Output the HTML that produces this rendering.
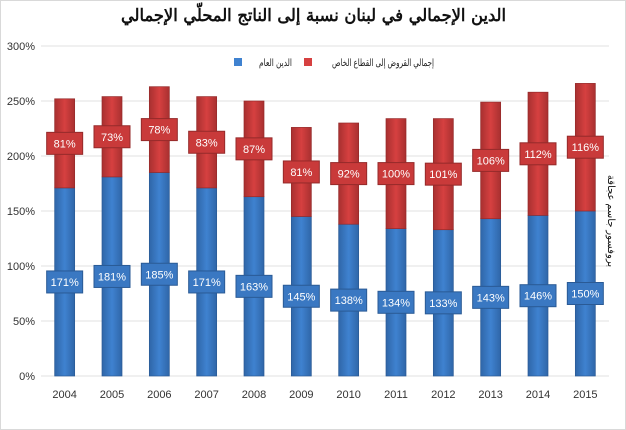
<!DOCTYPE html>
<html><head><meta charset="utf-8"><style>
body{margin:0;background:#fff;}
#c{position:relative;width:626px;height:430px;font-family:"Liberation Sans","Noto Sans CJK SC",sans-serif;border:1px solid #d9d9d9;box-sizing:border-box;overflow:hidden}
</style></head><body>
<div id="c">
<svg id="s" width="626" height="430"></svg>
</div>
<script>
const years=["2004","2005","2006","2007","2008","2009","2010","2011","2012","2013","2014","2015"];
const publicDebt=[171,181,185,171,163,145,138,134,133,143,146,150];
const privateLoans=[81,73,78,83,87,81,92,100,101,106,112,116];
const yTicks=[0,50,100,150,200,250,300];
const NS="http://www.w3.org/2000/svg";
const svg=document.getElementById('s');
const x0=40,x1=608,yBase=375,yTop=45,yMax=300;
const y=v=>yBase-(v/yMax)*(yBase-yTop);
const step=(x1-x0)/years.length;
const xc=i=>x0+step*(i+0.5);
function mk(t,a,txt){const e=document.createElementNS(NS,t);for(const k in a)e.setAttribute(k,a[k]);if(txt!==undefined)e.textContent=txt;svg.appendChild(e);return e;}
svg.innerHTML='<defs><linearGradient id="gb" x1="0" x2="1"><stop offset="0" stop-color="#2f66a8"/><stop offset="0.5" stop-color="#3f82d0"/><stop offset="1" stop-color="#2f66a8"/></linearGradient><linearGradient id="gr" x1="0" x2="1"><stop offset="0" stop-color="#a83030"/><stop offset="0.5" stop-color="#d64040"/><stop offset="1" stop-color="#a83030"/></linearGradient></defs>';
let t=mk('text',{x:120,y:20,'font-size':17,'font-weight':'bold',fill:'#111','font-family':'"DejaVu Serif",serif',textLength:385,lengthAdjust:'spacingAndGlyphs'},'الدين الإجمالي في لبنان نسبة إلى الناتج المحلّي الإجمالي');


yTicks.forEach(v=>{
 const l=mk('line',{x1:x0,x2:x1,y1:y(v),y2:y(v),stroke:'#e0e0e0','stroke-width':1});
 
 
 const tx=mk('text',{x:34,y:y(v)+4,'text-anchor':'end','font-size':11,fill:'#333'},v+'%');
 
 
});
let lg=mk('rect',{x:233,y:57,width:8,height:8,fill:'#3f82d0'});


let lt=mk('text',{x:258,y:65,'font-size':10,fill:'#222',textLength:33,lengthAdjust:'spacingAndGlyphs'},'الدين العام');


lg=mk('rect',{x:303,y:57,width:8,height:8,fill:'#d64040'});


lt=mk('text',{x:331,y:65,'font-size':10,fill:'#222',textLength:102,lengthAdjust:'spacingAndGlyphs'},'إجمالي القروض إلى القطاع الخاص');


const bw=20,lw=36,lh=22;
years.forEach((yr,i)=>{
 const cx=xc(i),a=publicDebt[i],b=privateLoans[i];
 const rb=mk('rect',{x:cx-bw/2,y:y(a),width:bw,height:yBase-y(a),fill:'url(#gb)',stroke:'#2a5a95','stroke-width':0.7});
 
 
 const rr=mk('rect',{x:cx-bw/2,y:y(a+b),width:bw,height:y(a)-y(a+b),fill:'url(#gr)',stroke:'#952a2a','stroke-width':0.7});
 
 
 [[a/2,a,'#3a78c2','#2a5a95'],[a+b/2,b,'#c93a3a','#952a2a']].forEach(([m,v,f,s],k)=>{
  const bx=mk('rect',{x:cx-lw/2,y:y(m)-lh/2,width:lw,height:lh,fill:f,stroke:s,'stroke-width':1});
  
  
  const lb=mk('text',{x:cx,y:y(m)+4,'text-anchor':'middle','font-size':11,fill:'#fff'},v+'%');
  
  
 });
 const xl=mk('text',{x:cx,y:397,'text-anchor':'middle','font-size':11,fill:'#333'},yr);
 
 
});
const au=mk('text',{x:0,y:0,transform:'translate(607,220) rotate(90)','text-anchor':'middle','font-size':10,fill:'#111'},'بروفسور جاسم عجاقة');


</script>
</body></html>
